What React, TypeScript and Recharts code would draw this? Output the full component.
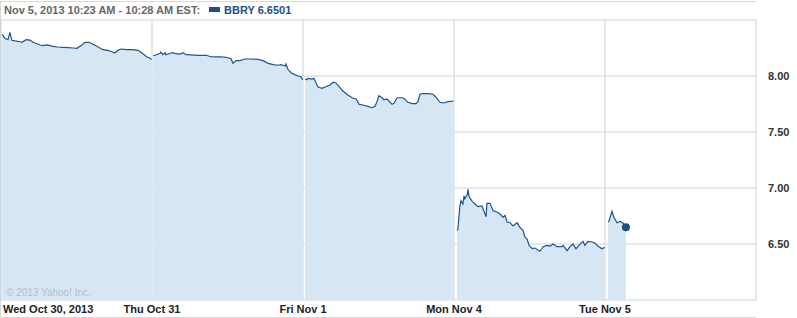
import React from 'react';
import { AreaChart, Area, XAxis, YAxis, CartesianGrid, ReferenceDot } from 'recharts';

// minutes after the 9:30 open, price
const wed: [number, number][] = [
  [3, 8.372], [10, 8.337], [18, 8.324], [23, 8.39], [28, 8.319], [36, 8.313], [49, 8.306], [54, 8.301],
  [65, 8.324], [75, 8.321], [83, 8.301], [93, 8.288], [101, 8.277], [108, 8.271], [119, 8.277], [127, 8.271],
  [134, 8.265], [147, 8.259], [160, 8.256], [173, 8.253], [186, 8.25], [196, 8.247], [209, 8.277], [217, 8.301],
  [227, 8.301], [238, 8.283], [251, 8.259], [263, 8.235], [276, 8.229], [287, 8.217], [294, 8.205], [302, 8.229],
  [310, 8.241], [325, 8.235], [341, 8.235], [354, 8.229], [364, 8.205], [377, 8.17], [385, 8.158], [389, 8.146],
];
const thu: [number, number][] = [
  [3, 8.181], [8, 8.185], [21, 8.203], [23, 8.214], [28, 8.19], [34, 8.208], [36, 8.19], [47, 8.203],
  [54, 8.208], [62, 8.199], [72, 8.196], [80, 8.208], [88, 8.19], [101, 8.188], [119, 8.185], [140, 8.185],
  [152, 8.172], [165, 8.17], [178, 8.172], [191, 8.167], [204, 8.154], [209, 8.113], [217, 8.137], [227, 8.137],
  [240, 8.152], [256, 8.152], [274, 8.149], [287, 8.137], [300, 8.113], [313, 8.101], [326, 8.096], [333, 8.101],
  [344, 8.089], [346, 8.107], [351, 8.06], [359, 8.029], [369, 8.012], [377, 8.0], [385, 7.994], [389, 7.964],
];
const fri: [number, number][] = [
  [5, 7.973], [10, 7.967], [13, 7.979], [23, 7.973], [28, 7.979], [34, 7.935], [39, 7.902], [49, 7.89],
  [57, 7.902], [70, 7.92], [78, 7.944], [85, 7.938], [93, 7.908], [103, 7.866], [116, 7.83], [129, 7.801],
  [137, 7.795], [145, 7.747], [155, 7.741], [168, 7.729], [178, 7.717], [186, 7.729], [191, 7.771], [196, 7.824],
  [204, 7.806], [209, 7.788], [217, 7.795], [222, 7.777], [230, 7.747], [235, 7.756], [243, 7.806], [256, 7.806],
  [263, 7.795], [271, 7.765], [282, 7.753], [292, 7.753], [297, 7.771], [302, 7.837], [310, 7.842], [323, 7.842],
  [336, 7.837], [346, 7.801], [354, 7.765], [362, 7.759], [375, 7.771], [389, 7.777],
];
const mon: [number, number][] = [
  [8, 6.619], [10, 6.631], [15, 6.833], [18, 6.887], [23, 6.857], [26, 6.929], [28, 6.904], [34, 6.94],
  [36, 6.988], [39, 6.922], [47, 6.881], [54, 6.857], [62, 6.833], [72, 6.839], [75, 6.815], [83, 6.744],
  [85, 6.863], [93, 6.863], [101, 6.797], [111, 6.786], [119, 6.768], [127, 6.738], [132, 6.756], [137, 6.696],
  [145, 6.69], [152, 6.661], [163, 6.69], [170, 6.649], [178, 6.625], [183, 6.565], [189, 6.542], [194, 6.488],
  [202, 6.458], [209, 6.464], [222, 6.435], [230, 6.476], [240, 6.488], [248, 6.482], [256, 6.5], [266, 6.476],
  [279, 6.476], [282, 6.488], [292, 6.44], [300, 6.476], [307, 6.5], [315, 6.458], [323, 6.488], [333, 6.524],
  [338, 6.488], [346, 6.524], [357, 6.518], [364, 6.506], [372, 6.482], [382, 6.458], [389, 6.47],
];
const tue: [number, number][] = [
  [8, 6.696], [10, 6.702], [18, 6.792], [23, 6.738], [31, 6.69], [39, 6.702], [47, 6.685], [54, 6.6501],
];

const days = [wed, thu, fri, mon, tue];
const dayLabels = ['Wed Oct 30, 2013', 'Thu Oct 31', 'Fri Nov 1', 'Mon Nov 4', 'Tue Nov 5'];
const priceTicks = [6, 6.5, 7, 7.5, 8, 8.5];
const SESSION = 390;

// one row per quote; a null row after each day breaks the line and the fill
const data: { t: number; price: number | null }[] = [];
days.forEach((day, d) => {
  day.forEach(([m, p]) => data.push({ t: d * SESSION + m, price: p }));
  data.push({ t: d * SESSION + SESSION - 0.5, price: null });
});
const last = tue[tue.length - 1];
const dayTicks = [0, 1, 2, 3, 4, 5].map(d => d * SESSION);

const font = '"Liberation Sans", Arial, sans-serif';

const DayTick = (props: any) => {
  const { x, index } = props;
  const label = dayLabels[index];
  if (!label) return null;
  return (
    <text x={index === 0 ? x + 2 : x} y={313} textAnchor={index === 0 ? 'start' : 'middle'}
      fill="#222" fontSize={11} fontWeight="bold" fontFamily={font}>
      {label}
    </text>
  );
};

const PriceTick = (props: any) => {
  const { x, y, payload } = props;
  if (payload.value <= 6 || payload.value >= 8.5) return null;
  return (
    <text x={x + 4} y={y + 4} textAnchor="start" fill="#333" fontSize={11} fontWeight="bold" fontFamily={font}>
      {payload.value.toFixed(2)}
    </text>
  );
};

export default function App() {
  return (
    <div style={{ position: 'absolute', left: 0, top: 0, width: 797, height: 318, background: '#fff', fontFamily: font }}>
      <div style={{ position: 'absolute', left: 0, top: 1, width: 756, height: 317, borderTop: '1px solid #d8d8d8', borderBottom: '1px solid #d8d8d8', borderLeft: '1px solid #d8d8d8', boxSizing: 'border-box' }} />
      <div style={{ position: 'absolute', left: 4, top: 4, fontSize: 11, fontWeight: 'bold', color: '#666', whiteSpace: 'nowrap' }}>
        Nov 5, 2013 10:23 AM - 10:28 AM EST:
        <span style={{ display: 'inline-block', width: 11, height: 5, background: '#1d4f86', margin: '0 4px 2px 9px' }} />
        <span style={{ color: '#1d4f86' }}>BBRY 6.6501</span>
      </div>
      <AreaChart width={797} height={318} data={data} margin={{ top: 20, right: 0, left: 1, bottom: 0 }}
        style={{ position: 'absolute', left: 0, top: 0 }}>
        <CartesianGrid stroke="#c6d6e2" strokeWidth={1} />
        <XAxis dataKey="t" type="number" domain={[0, 5 * SESSION]} ticks={dayTicks} axisLine={false} tickLine={false}
          height={18} tick={<DayTick />} interval={0} />
        <YAxis orientation="right" domain={[6, 8.5]} ticks={priceTicks} axisLine={false} tickLine={false}
          width={41} tick={<PriceTick />} interval={0} />
        <Area type="linear" dataKey="price" stroke="#1d5590" strokeWidth={1.2} fill="#d6e6f2" fillOpacity={1}
          baseValue={6} connectNulls={false} dot={false} activeDot={false} isAnimationActive={false} />
        <ReferenceDot x={3 * SESSION + SESSION + last[0]} y={last[1]} r={4} fill="#1d4f86" stroke="none" />
      </AreaChart>
      <div style={{ position: 'absolute', left: 6, top: 287, fontSize: 10, color: '#b2c0cd', whiteSpace: 'nowrap' }}>
        © 2013 Yahoo! Inc.
      </div>
    </div>
  );
}
